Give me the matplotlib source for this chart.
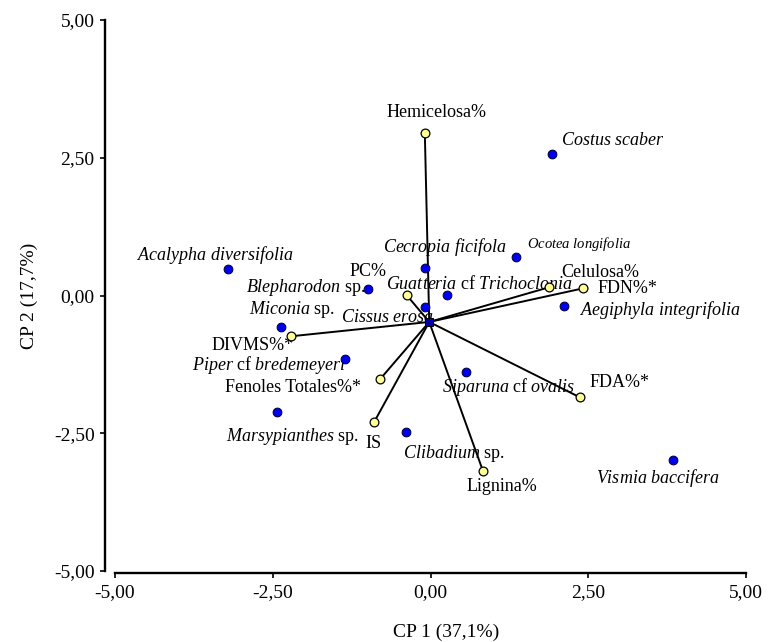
import matplotlib
matplotlib.use("Agg")
import matplotlib.pyplot as plt

plt.rcParams['font.family'] = ['Liberation Serif', 'DejaVu Serif']
plt.rcParams['mathtext.fontset'] = 'custom'
plt.rcParams['mathtext.rm'] = 'Liberation Serif'
plt.rcParams['mathtext.it'] = 'Liberation Serif:italic'

# ---- data: species scores ----
species = [
    r"$\mathit{Acalypha\ diversifolia}$",
    r"$\mathit{Blepharodon}\ \mathrm{sp.}$",
    r"$\mathit{Miconia}\ \mathrm{sp.}$",
    r"$\mathit{Piper}\ \mathrm{cf}\ \mathit{bredemeyeri}$",
    r"$\mathit{Marsypianthes}\ \mathrm{sp.}$",
    r"$\mathit{Clibadium}\ \mathrm{sp.}$",
    r"$\mathit{Cecropia\ ficifola}$",
    r"$\mathit{Cissus\ erosa}$",
    r"$\mathit{Ocotea\ longifolia}$",
    r"$\mathit{Guatteria}\ \mathrm{cf}\ \mathit{Trichoclonia}$",
    r"$\mathit{Aegiphyla\ integrifolia}$",
    r"$\mathit{Siparuna}\ \mathrm{cf}\ \mathit{ovalis}$",
    r"$\mathit{Costus\ scaber}$",
    r"$\mathit{Vismia\ baccifera}$",
]
species_cp1 = [-3.21, -0.99, -2.37, -1.36, -2.44, -0.39, -0.09, -0.09, 1.36, 0.26, 2.12, 0.57, 1.92, 3.84]
species_cp2 = [0.48, 0.11, -0.57, -1.15, -2.12, -2.48, 0.50, -0.21, 0.70, 0.01, -0.19, -1.39, 2.56, -2.98]

# unlabeled point at the vector origin
origin_cp1 = -0.02
origin_cp2 = -0.48

# ---- data: variable vectors ----
variables = ["Hemicelosa%", "PC%", "Celulosa%", "FDN%*", "DIVMS%*",
             "Fenoles Totales%*", "IS", "FDA%*", "Lignina%"]
var_cp1 = [-0.09, -0.38, 1.88, 2.42, -2.21, -0.80, -0.89, 2.37, 0.83]
var_cp2 = [2.95, 0.01, 0.15, 0.13, -0.74, -1.52, -2.29, -1.85, -3.18]

ticks = [-5.0, -2.5, 0.0, 2.5, 5.0]
tick_labels = ["-5,00", "-2,50", "0,00", "2,50", "5,00"]

# ---- layout: label offsets (pixels) ----
species_off = [(-13, 14), (-62, 2), (11, 17), (-76, -6), (16, -24), (48, -21),
               (20, 21), (-37, -10), (63, 13), (33, 11), (96, -4), (42, -15),
               (None, 14), (-15, -18)]
var_off = [(12, 20), (-39, 23), (51, 15), (44, 0), (-38, -9), (-87, -8),
           (-1, -22), (39, 15), (19, -16)]

fig = plt.figure(figsize=(7.69, 6.42), dpi=100)
ax = fig.add_axes([115 / 769, 1 - 571 / 642, 631 / 769, 551 / 642])
ax.set_xlim(-5, 5)
ax.set_ylim(-5, 5)

for x, y in zip(var_cp1, var_cp2):
    ax.plot([origin_cp1, x], [origin_cp2, y], color='black', lw=1.4, zorder=2,
            solid_capstyle='butt')

ax.scatter(var_cp1, var_cp2, s=40, c='#FFFF99', edgecolors='black',
           linewidths=0.9, zorder=4)
ax.scatter(species_cp1, species_cp2, s=40, c='#0000EE', edgecolors='#000033',
           linewidths=0.7, zorder=4)
ax.scatter([origin_cp1], [origin_cp2], s=30, c='#0000AA', edgecolors='black',
           linewidths=0.7, marker='s', zorder=5)

for name, x, y, (dx, dy) in zip(species, species_cp1, species_cp2, species_off):
    size = 10.5 if 'Ocotea' in name else 13
    if dx is None:
        ax.annotate(name, (x, y), xytext=(9, dy), textcoords='offset pixels',
                    ha='left', va='center', fontsize=size, zorder=3)
    else:
        ax.annotate(name, (x, y), xytext=(dx, dy), textcoords='offset pixels',
                    ha='center', va='center', fontsize=size, zorder=3)

for name, x, y, (dx, dy) in zip(variables, var_cp1, var_cp2, var_off):
    ax.annotate(name, (x, y), xytext=(dx, dy), textcoords='offset pixels',
                ha='center', va='center', fontsize=13, zorder=3)

for s in ['top', 'right']:
    ax.spines[s].set_visible(False)
ax.spines['left'].set_position(('outward', 7.2))
ax.spines['bottom'].set_position(('outward', 1.7))
ax.spines['left'].set_linewidth(1.7)
ax.spines['bottom'].set_linewidth(1.7)

ax.set_xticks(ticks)
ax.set_xticklabels(tick_labels)
ax.set_yticks(ticks)
ax.set_yticklabels(tick_labels)
ax.tick_params(axis='both', direction='out', length=3.5, width=1.2,
               labelsize=14, pad=4)

ax.set_xlabel("CP 1 (37,1%)", fontsize=14)
ax.xaxis.set_label_coords((446 - 115) / 631, (571 - 632) / 551)
ax.xaxis.label.set_va('center')
ax.set_ylabel("CP 2 (17,7%)", fontsize=14)
ax.yaxis.set_label_coords((29 - 115) / 631, 0.5)
ax.yaxis.label.set_va('center')

fig.savefig("out.png", dpi=100)
